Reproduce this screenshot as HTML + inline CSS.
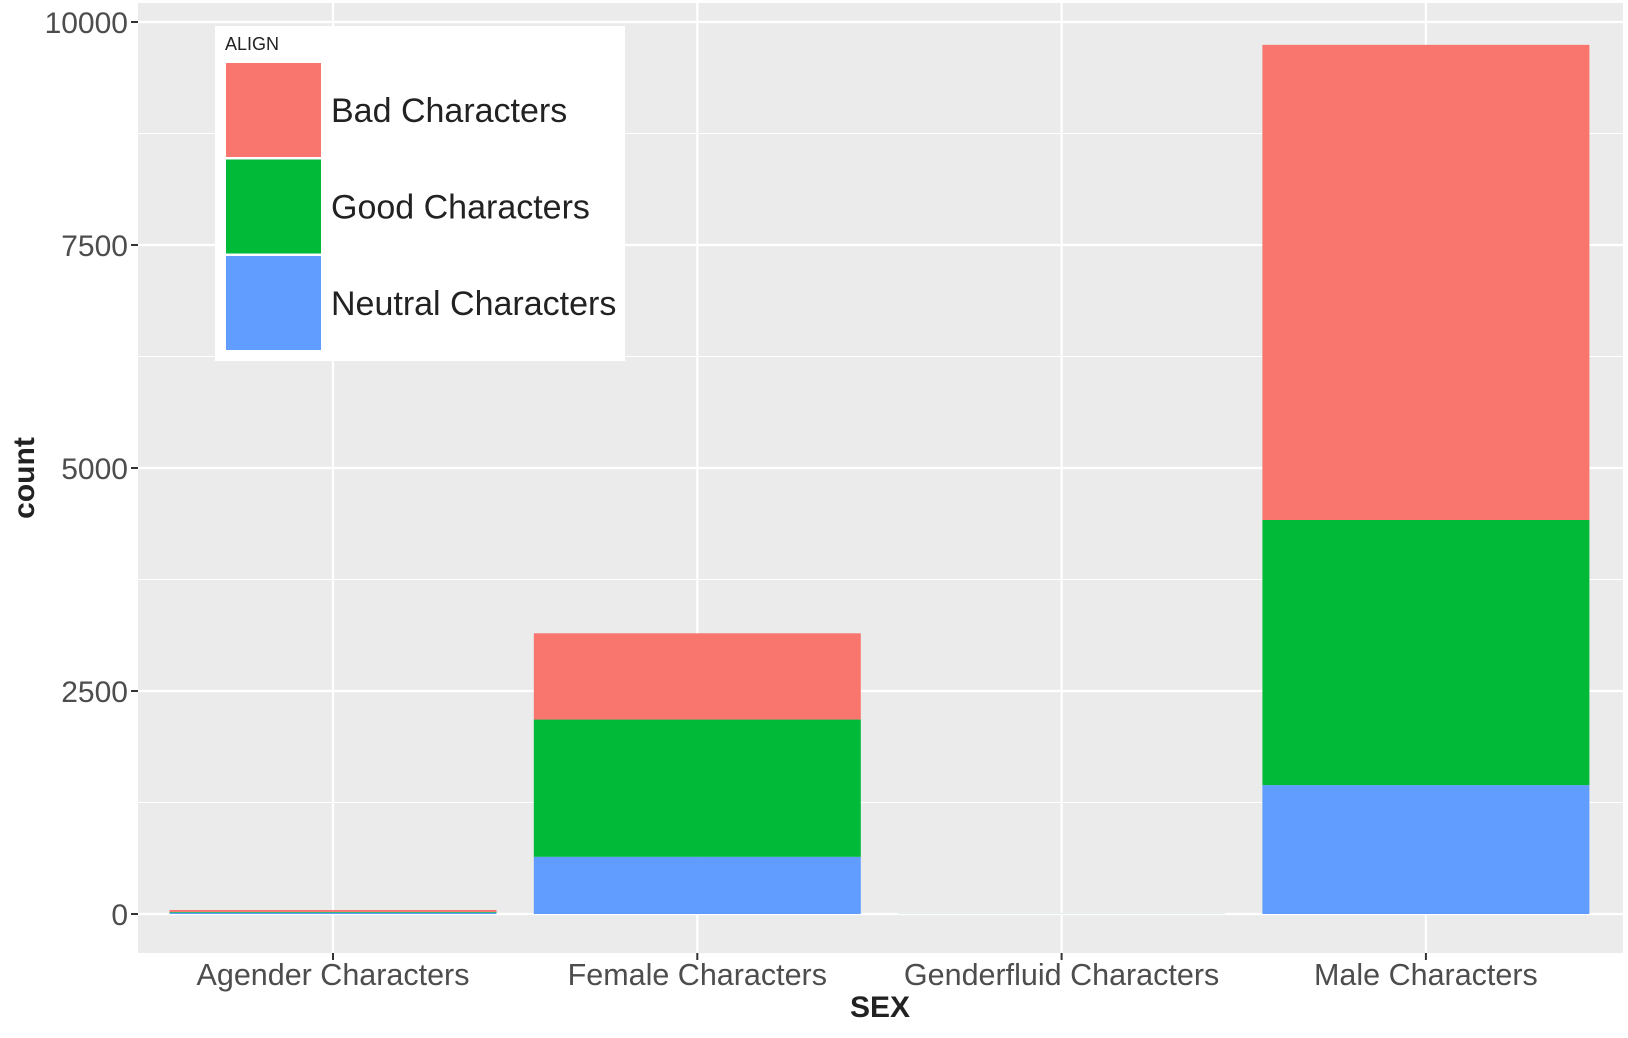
<!DOCTYPE html>
<html><head><meta charset="utf-8"><style>
html,body{margin:0;padding:0;background:#fff;}
svg text{font-family:"Liberation Sans",Arial,sans-serif;}
</style></head><body>
<svg id="chart" width="1628" height="1033" viewBox="0 0 1628 1033" xmlns="http://www.w3.org/2000/svg"></svg>
<script>
const categories = ["Agender Characters","Female Characters","Genderfluid Characters","Male Characters"];
const neutralValues = [15, 641, 1, 1445];
const goodValues = [8, 1539, 1, 2972];
const badValues = [22, 967, 0, 5327];
const yTicks = [0, 2500, 5000, 7500, 10000];
const yTickLabels = ["0","2500","5000","7500","10000"];
const yMinor = [1250, 3750, 6250, 8750];

const NS = "http://www.w3.org/2000/svg";
const svg = document.getElementById('chart');
const P = {l:138, r:1623, t:3, b:953};
const y0 = 914, yTop = 22;
function y(v){ return y0 - v*(y0-yTop)/10000; }
const band = 364.3;
function xc(i){ return 333 + i*band; }
const bw = 327;
function el(tag, attrs, parent){ const e=document.createElementNS(NS,tag); for(const k in attrs) e.setAttribute(k,attrs[k]); (parent||svg).appendChild(e); return e; }

const panel = el('rect',{x:P.l,y:P.t,width:P.r-P.l,height:P.b-P.t,fill:'#ebebeb'});


yMinor.forEach(v=>{ const l=el('line',{x1:P.l,x2:P.r,y1:y(v),y2:y(v),stroke:'#fff','stroke-width':1.1});
   });
yTicks.forEach((v,i)=>{ const l=el('line',{x1:P.l,x2:P.r,y1:y(v),y2:y(v),stroke:'#fff','stroke-width':2.2});
  
 const t=el('line',{x1:P.l-7,x2:P.l,y1:y(v),y2:y(v),stroke:'#333','stroke-width':2});
  
 const tx=el('text',{x:P.l-10,y:y(v)+11,'text-anchor':'end','font-size':30,fill:'#4d4d4d'}); tx.textContent=yTickLabels[i];
   });
categories.forEach((c,i)=>{ const l=el('line',{x1:xc(i),x2:xc(i),y1:P.t,y2:P.b,stroke:'#fff','stroke-width':2.2});
  
 const t=el('line',{x1:xc(i),x2:xc(i),y1:P.b,y2:P.b+7,stroke:'#333','stroke-width':2});
  
 const tx=el('text',{x:xc(i),y:985,'text-anchor':'middle','font-size':30.5,fill:'#4d4d4d'}); tx.textContent=c;
   });

const series=[[neutralValues,'#619cff','neutral'],[goodValues,'#00ba38','good'],[badValues,'#f8766d','bad']];
categories.forEach((c,i)=>{ let base=0;
 series.forEach(([vals,col,nm])=>{ const v=vals[i]; if(v<=0) return;
  const r=el('rect',{x:xc(i)-bw/2,y:y(base+v),width:bw,height:y(base)-y(base+v),fill:col});
    base+=v; }); });

const xt=el('text',{x:880,y:1017,'text-anchor':'middle','font-size':30,'font-weight':'bold',fill:'#222'}); xt.textContent='SEX';
 
const yt=el('text',{x:0,y:0,transform:'translate(34,478) rotate(-90)','text-anchor':'middle','font-size':30,'font-weight':'bold',fill:'#222'}); yt.textContent='count';
 

const lg=el('g',{});
 
el('rect',{x:215,y:26,width:410,height:335,fill:'#fff'},lg);
const lt=el('text',{x:225,y:50,'font-size':18,fill:'#222'},lg); lt.textContent='ALIGN';
 
const legendItems=[['Bad Characters','#f8766d'],['Good Characters','#00ba38'],['Neutral Characters','#619cff']];
legendItems.forEach(([n,c],i)=>{ const yy=63+i*96.5;
 const k=el('rect',{x:226,y:yy,width:95,height:94,fill:c},lg);
  
 const t=el('text',{x:331,y:yy+59,'font-size':34,fill:'#222'},lg); t.textContent=n;
   });
</script>
</body></html>
